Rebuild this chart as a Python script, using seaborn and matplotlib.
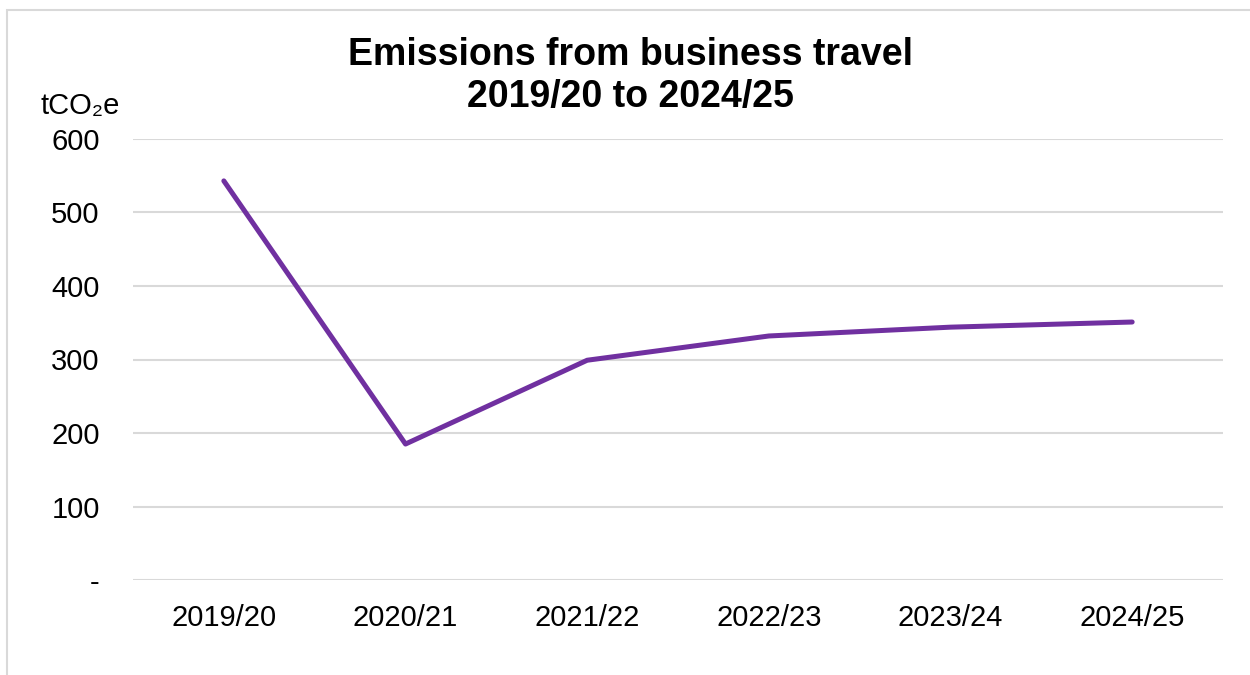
import matplotlib
matplotlib.use("Agg")
import matplotlib.pyplot as plt
import seaborn as sns
import pandas as pd
from matplotlib.ticker import FuncFormatter
from matplotlib.patches import Rectangle

# Data
years = ["2019/20", "2020/21", "2021/22", "2022/23", "2023/24", "2024/25"]
emissions = [543, 185, 299, 332, 344, 351]

df = pd.DataFrame({"year": years, "tco2e": emissions})

sns.set_style("white")
plt.rcParams["font.family"] = ["Liberation Sans", "DejaVu Sans"]
plt.rcParams["text.color"] = "black"

fig = plt.figure(figsize=(12.5, 6.75), dpi=100)
ax = fig.add_axes([133 / 1250, 1 - 580 / 675, 1090 / 1250, 441 / 675])

sns.lineplot(data=df, x="year", y="tco2e", ax=ax, color="#7030A0",
             linewidth=3.6, sort=False, solid_capstyle="round")

ax.set_xlim(-0.5, 5.5)
ax.set_ylim(0, 600)
ax.set_yticks(range(0, 601, 100))
ax.yaxis.set_major_formatter(FuncFormatter(lambda v, p: "-" if v == 0 else f"{int(v)}"))
ax.grid(axis="y", color="#D9D9D9", linewidth=1.5)
ax.set_axisbelow(True)
for s in ax.spines.values():
    s.set_visible(False)
ax.tick_params(axis="both", length=0, labelsize=21, colors="black")
ax.tick_params(axis="x", pad=17)
ax.tick_params(axis="y", pad=24)
ax.set_xlabel("")
ax.set_ylabel("")

fig.text(630 / 1250, 1 - 55 / 675, "Emissions from business travel", ha="center",
         va="center", fontsize=27, fontweight="bold", color="black")
fig.text(630 / 1250, 1 - 97 / 675, "2019/20 to 2024/25", ha="center",
         va="center", fontsize=27, fontweight="bold", color="black")
fig.text(80 / 1250, 1 - 106 / 675, "tCO₂e", ha="center", va="center",
         fontsize=21, color="black")

# outer chart frame
fig.patches.append(Rectangle((7 / 1250, -0.1), 1.2, 1 - 10 / 675 + 0.1,
                             transform=fig.transFigure, fill=False,
                             edgecolor="#D9D9D9", linewidth=1.5))

fig.savefig("out.png", dpi=100)
